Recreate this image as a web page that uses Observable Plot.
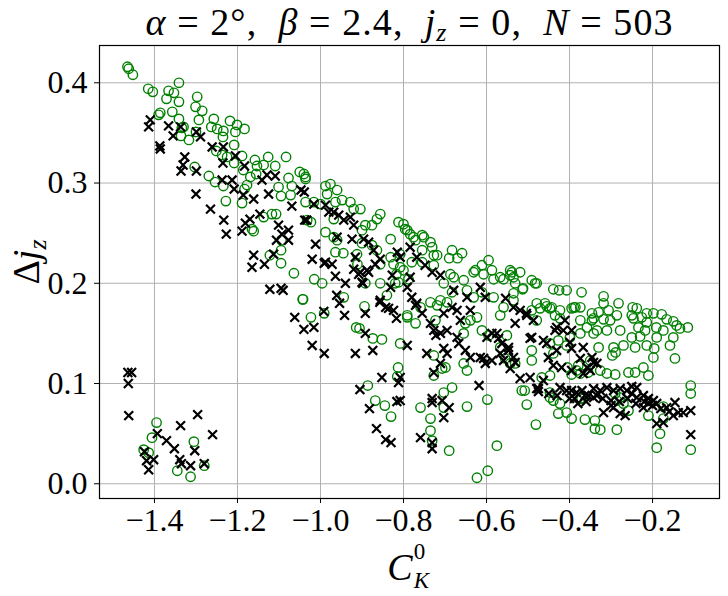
<!DOCTYPE html>
<html>
<head>
<meta charset="utf-8">
<script src="https://cdn.jsdelivr.net/npm/d3@7"></script>
<script src="https://cdn.jsdelivr.net/npm/@observablehq/plot@0.6"></script>
<style>
  html, body { margin: 0; padding: 0; background: white; }
  svg text { font-family: "Liberation Serif", serif; }
</style>
</head>
<body>
<script>
const FONT = "'Liberation Serif', serif";

const xTicks = [-1.4, -1.2, -1.0, -0.8, -0.6, -0.4, -0.2];
const yTicks = [0.0, 0.1, 0.2, 0.3, 0.4];

// green open circles [C_K^0, Δj_z]
const greenPoints = [
[-1.465,0.416],[-1.462,0.414],[-1.452,0.408],[-1.415,0.394],[-1.404,0.391],[-1.341,0.400],[-1.366,0.392],[-1.353,0.390],[-1.371,0.384],[-1.341,0.381],[-1.297,0.386],[-1.301,0.376],[-1.285,0.372],[-1.386,0.370],[-1.390,0.368],[-1.357,0.371],[-1.341,0.364],[-1.293,0.363],[-1.257,0.364],[-1.218,0.362],[-1.201,0.358],[-1.183,0.354],[-1.263,0.356],[-1.249,0.354],[-1.234,0.352],[-1.235,0.346],[-1.205,0.351],[-1.334,0.355],[-1.330,0.356],[-1.336,0.347],[-1.317,0.343],[-1.300,0.351],[-1.208,0.338],[-1.251,0.332],[-1.237,0.328],[-1.225,0.326],[-1.189,0.327],[-1.208,0.320],[-1.158,0.323],[-1.126,0.326],[-1.083,0.326],[-1.153,0.317],[-1.137,0.318],[-1.109,0.317],[-1.155,0.309],[-1.169,0.306],[-1.186,0.313],[-1.303,0.316],[-1.269,0.307],[-1.254,0.301],[-1.234,0.297],[-1.183,0.294],[-1.177,0.298],[-1.077,0.305],[-1.050,0.311],[-1.036,0.306],[-1.101,0.296],[-1.069,0.297],[-1.095,0.287],[-1.072,0.288],[-1.189,0.280],[-1.228,0.282],[-1.137,0.266],[-1.117,0.269],[-1.107,0.269],[-1.165,0.254],[-1.161,0.252],[-1.094,0.243],[-1.095,0.233],[-1.122,0.228],[-1.032,0.263],
[-1.095,0.220],[-1.064,0.210],[-1.015,0.204],[-0.996,0.200],[-1.043,0.184],[-1.023,0.166],[-0.991,0.170],[-0.944,0.186],[-0.894,0.177],[-0.892,0.200],[-0.914,0.156],[-0.906,0.155],[-0.874,0.145],[-0.852,0.144],[-0.808,0.140],[-0.813,0.116],[-0.815,0.107],[-0.886,0.098],[-0.868,0.083],[-0.845,0.078],[-0.830,0.067],[-0.964,0.231],[-0.945,0.230],[-0.912,0.229],[-0.911,0.219],[-0.831,0.226],[-0.856,0.219],[-0.824,0.219],[-0.808,0.229],[-0.817,0.209],[-0.820,0.200],[-0.840,0.188],[-0.791,0.166],
[-1.395,0.061],[-1.406,0.046],[-1.426,0.034],[-1.414,0.031],[-1.305,0.042],[-1.345,0.013],[-1.313,0.007],[-1.280,0.018],
[-1.040,0.309],[-1.036,0.304],[-0.988,0.297],[-0.976,0.299],[-0.960,0.293],[-0.984,0.289],[-1.036,0.281],[-1.016,0.281],[-1.000,0.279],[-0.964,0.281],[-0.948,0.283],[-0.928,0.281],[-0.920,0.274],[-0.904,0.274],[-0.968,0.264],[-1.023,0.261],[-0.856,0.269],[-0.864,0.264],[-0.892,0.258],[-0.876,0.258],[-0.900,0.253],[-0.968,0.246],[-0.988,0.251],[-0.960,0.243],[-0.900,0.240],[-0.864,0.233],[-0.831,0.244],[-0.876,0.238],[-0.812,0.261],[-0.791,0.253],[-0.771,0.243],[-0.751,0.246],[-0.755,0.233],[-0.731,0.236],[-0.727,0.228],[-0.683,0.233],[-0.659,0.230],[-0.780,0.221],[-0.755,0.221],[-0.808,0.216],[-0.800,0.213],[-0.812,0.201],[-0.788,0.204],[-0.727,0.218],[-0.687,0.209],[-0.679,0.206],[-0.655,0.203],[-0.703,0.200],[-0.627,0.213],[-0.611,0.218],[-0.595,0.223],[-0.607,0.209],[-0.583,0.204],[-0.567,0.206],[-0.543,0.213],[-0.535,0.206],[-0.647,0.193],[-0.631,0.186],[-0.611,0.191],[-0.683,0.191],[-0.711,0.183],[-0.719,0.178],[-0.695,0.181],[-0.583,0.186],[-0.559,0.176],[-0.567,0.168],[-0.623,0.166],[-0.651,0.160],[-0.655,0.150],[-0.639,0.163],[-0.611,0.153],[-0.551,0.148],[-0.567,0.136],[-0.727,0.128],[-0.791,0.168],[-0.771,0.160],[-0.735,0.181],[-0.723,0.163],[-0.759,0.176],[-0.856,0.200],[-1.042,0.184],
[-0.800,0.259],[-0.796,0.254],[-0.784,0.249],[-0.776,0.246],[-0.755,0.248],[-0.735,0.241],[-0.719,0.228],[-0.690,0.225],[-0.670,0.225],[-0.631,0.211],[-0.587,0.213],[-0.559,0.204],[-0.519,0.211],[-0.531,0.200],[-0.491,0.203],[-0.479,0.200],[-0.439,0.194],[-0.425,0.193],[-0.407,0.193],[-0.386,0.176],[-0.512,0.195],
[-0.707,0.115],[-0.699,0.116],[-0.727,0.108],[-0.647,0.113],[-0.655,0.120],[-0.703,0.091],[-0.683,0.096],[-0.703,0.076],[-0.759,0.076],[-0.735,0.065],[-0.735,0.053],[-0.731,0.043],[-0.690,0.033],[-0.647,0.077],[-0.598,0.084],[-0.575,0.038],[-0.597,0.013],[-0.623,0.006],[-0.503,0.079],[-0.481,0.059],[-0.515,0.093],[-0.508,0.093],[-0.595,0.148],[-0.491,0.133],[-0.491,0.123],[-0.439,0.083],[-0.427,0.070],[-0.407,0.071],[-0.395,0.065],[-0.363,0.064],[-0.339,0.063],[-0.339,0.055],[-0.371,0.085],[-0.447,0.091],[-0.405,0.116],[-0.383,0.113],[-0.350,0.123],[-0.443,0.176],[-0.455,0.177],[-0.435,0.168],[-0.423,0.165],[-0.479,0.163],[-0.471,0.175],[-0.390,0.176],[-0.374,0.176],[-0.374,0.163],[-0.358,0.156],[-0.346,0.170],[-0.346,0.163],[-0.342,0.150],[-0.374,0.150],[-0.334,0.153],[-0.491,0.173],
[-0.539,0.211],[-0.543,0.208],[-0.483,0.200],[-0.513,0.194],[-0.535,0.190],[-0.535,0.183],[-0.371,0.191],[-0.318,0.187],[-0.318,0.180],[-0.282,0.180],[-0.248,0.176],[-0.238,0.175],[-0.214,0.170],[-0.198,0.170],[-0.178,0.169],[-0.479,0.180],[-0.459,0.180],[-0.447,0.175],[-0.423,0.173],[-0.395,0.175],[-0.330,0.171],[-0.306,0.173],[-0.286,0.168],[-0.250,0.168],[-0.226,0.166],[-0.342,0.165],[-0.318,0.164],[-0.302,0.163],[-0.246,0.165],[-0.214,0.161],[-0.166,0.164],[-0.150,0.162],[-0.142,0.158],[-0.134,0.155],[-0.115,0.156],[-0.310,0.153],[-0.278,0.153],[-0.234,0.156],[-0.218,0.153],[-0.191,0.156],[-0.174,0.153],[-0.150,0.146],[-0.190,0.146],[-0.230,0.147],[-0.250,0.146],[-0.399,0.146],[-0.427,0.143],[-0.447,0.140],[-0.407,0.138],[-0.330,0.136],[-0.294,0.136],[-0.270,0.138],[-0.242,0.136],[-0.214,0.138],[-0.196,0.135],[-0.158,0.138],[-0.289,0.131],[-0.297,0.128],[-0.198,0.126],[-0.146,0.125],[-0.439,0.130],[-0.379,0.118],[-0.355,0.111],[-0.326,0.113],[-0.310,0.110],[-0.290,0.109],[-0.258,0.111],[-0.242,0.111],[-0.222,0.116],[-0.210,0.108],[-0.374,0.110],[-0.395,0.109],[-0.447,0.108],[-0.467,0.106],[-0.374,0.085],[-0.290,0.090],[-0.278,0.086],[-0.286,0.083],[-0.270,0.080],[-0.258,0.073],[-0.326,0.054],[-0.286,0.054],[-0.210,0.068],[-0.174,0.077],[-0.174,0.065],[-0.182,0.050],[-0.190,0.036],[-0.108,0.098],[-0.108,0.090],[-0.108,0.034],[-0.555,0.125],[-0.543,0.120],[-0.531,0.120],[-0.447,0.086],[-0.423,0.080]
];

// black crosses [C_K^0, Δj_z]
const blackPoints = [
[-1.410,0.363],[-1.414,0.356],[-1.366,0.357],[-1.355,0.347],[-1.337,0.356],[-1.299,0.351],[-1.289,0.346],[-1.387,0.337],[-1.386,0.334],[-1.327,0.326],[-1.331,0.318],[-1.336,0.312],[-1.299,0.312],[-1.261,0.336],[-1.234,0.336],[-1.205,0.327],[-1.183,0.317],[-1.235,0.320],[-1.237,0.303],[-1.213,0.303],[-1.208,0.294],[-1.300,0.289],[-1.186,0.288],[-1.161,0.284],[-1.129,0.308],[-1.109,0.307],[-1.141,0.303],[-1.125,0.289],[-1.047,0.293],[-1.069,0.277],[-1.265,0.274],[-1.233,0.263],[-1.227,0.249],[-1.189,0.252],[-1.181,0.260],[-1.170,0.264],[-1.146,0.269],[-1.101,0.258],[-1.093,0.249],[-1.077,0.243],[-1.106,0.243],[-1.077,0.253],[-1.161,0.228],[-1.038,0.263],
[-1.165,0.216],[-1.135,0.219],[-1.113,0.229],[-1.122,0.194],[-1.095,0.195],[-1.090,0.193],[-1.020,0.224],[-0.991,0.220],[-0.972,0.219],[-0.964,0.207],[-0.940,0.200],[-0.920,0.214],[-0.904,0.211],[-0.884,0.211],[-0.868,0.219],[-0.898,0.200],[-0.961,0.188],[-0.954,0.180],[-0.992,0.172],[-0.942,0.168],[-1.062,0.166],[-1.040,0.154],[-1.016,0.156],[-1.020,0.138],[-0.991,0.130],[-0.916,0.130],[-0.874,0.133],[-0.892,0.150],[-0.892,0.170],[-0.857,0.181],[-0.836,0.175],[-0.817,0.165],[-0.791,0.138],[-0.852,0.106],[-0.812,0.101],[-0.905,0.094],[-0.882,0.075],[-0.816,0.082],[-0.865,0.055],[-0.843,0.044],[-0.830,0.041],
[-1.296,0.069],[-1.260,0.049],[-1.337,0.058],[-1.303,0.033],[-1.313,0.018],[-1.280,0.020],[-1.463,0.100],[-1.462,0.068],[-1.393,0.050],[-1.371,0.043],[-1.352,0.035],[-1.339,0.024],[-1.335,0.020],[-1.424,0.032],[-1.419,0.023],[-1.402,0.024],[-1.414,0.014],[-1.464,0.111],[-1.455,0.111],
[-1.039,0.291],[-1.033,0.263],[-1.016,0.279],[-0.988,0.278],[-0.980,0.271],[-0.968,0.271],[-0.956,0.268],[-0.944,0.263],[-0.928,0.266],[-0.920,0.258],[-0.960,0.246],[-0.924,0.244],[-1.012,0.239],[-0.988,0.221],[-0.916,0.226],[-0.896,0.244],[-0.884,0.241],[-0.872,0.233],[-0.856,0.224],[-0.888,0.213],[-0.908,0.209],[-0.900,0.201],[-0.827,0.208],[-0.815,0.231],[-0.808,0.226],[-0.784,0.236],[-0.768,0.226],[-0.748,0.218],[-0.731,0.211],[-0.711,0.208],[-0.784,0.206],[-0.791,0.196],[-0.831,0.196],[-0.856,0.183],[-0.843,0.176],[-0.824,0.173],[-0.780,0.186],[-0.768,0.180],[-0.755,0.170],[-0.735,0.160],[-0.727,0.153],[-0.711,0.150],[-0.703,0.170],[-0.671,0.173],[-0.663,0.163],[-0.639,0.173],[-0.679,0.193],[-0.647,0.186],[-0.615,0.196],[-0.603,0.186],[-0.671,0.146],[-0.651,0.133],[-0.639,0.126],[-0.615,0.126],[-0.599,0.146],[-0.575,0.150],[-0.563,0.140],[-0.547,0.133],[-0.535,0.126],[-0.554,0.185],[-0.535,0.176],[-0.695,0.130],[-0.711,0.120],[-0.744,0.130],
[-0.771,0.178],[-0.722,0.148],[-0.695,0.153],[-0.703,0.135],[-0.667,0.140],[-0.727,0.111],[-0.618,0.098],[-0.731,0.085],[-0.731,0.081],[-0.707,0.083],[-0.690,0.076],[-0.703,0.066],[-0.759,0.046],[-0.731,0.041],[-0.731,0.035],[-0.607,0.125],[-0.603,0.120],[-0.587,0.150],[-0.571,0.145],[-0.559,0.123],[-0.543,0.115],[-0.567,0.130],[-0.531,0.121],[-0.519,0.105],[-0.495,0.106],[-0.479,0.095],[-0.463,0.103],[-0.455,0.140],[-0.431,0.133],[-0.439,0.118],[-0.419,0.116],[-0.423,0.096],[-0.407,0.093],[-0.383,0.091],[-0.363,0.088],[-0.342,0.086],[-0.388,0.085],[-0.374,0.125],[-0.358,0.116],[-0.342,0.121],[-0.504,0.170],[-0.495,0.145],[-0.431,0.156],[-0.411,0.163],[-0.587,0.123],[-0.683,0.176],[-0.808,0.106],[-0.808,0.083],
[-0.519,0.173],[-0.503,0.168],[-0.531,0.160],[-0.487,0.163],[-0.491,0.146],[-0.463,0.143],[-0.451,0.126],[-0.435,0.153],[-0.415,0.153],[-0.395,0.153],[-0.399,0.141],[-0.395,0.135],[-0.367,0.136],[-0.346,0.126],[-0.334,0.120],[-0.395,0.113],[-0.350,0.113],[-0.367,0.110],[-0.547,0.136],[-0.475,0.095],[-0.475,0.092],[-0.342,0.095],[-0.334,0.088],[-0.326,0.093],[-0.310,0.096],[-0.294,0.093],[-0.278,0.095],[-0.262,0.093],[-0.250,0.090],[-0.238,0.086],[-0.222,0.088],[-0.210,0.085],[-0.198,0.083],[-0.190,0.080],[-0.166,0.076],[-0.146,0.081],[-0.138,0.071],[-0.126,0.071],[-0.108,0.073],[-0.108,0.049],[-0.318,0.071],[-0.294,0.076],[-0.278,0.070],[-0.266,0.068],[-0.222,0.076],[-0.210,0.080],[-0.190,0.060],[-0.174,0.061],[-0.238,0.096],[-0.250,0.097],[-0.395,0.093],[-0.370,0.093],[-0.355,0.088],[-0.300,0.083],
[-0.450,0.090],[-0.430,0.088],[-0.400,0.085],[-0.380,0.080],[-0.360,0.082],[-0.320,0.085],[-0.300,0.078],[-0.280,0.082],[-0.260,0.085],[-0.240,0.080],[-0.220,0.082],[-0.200,0.078],[-0.180,0.075],[-0.160,0.072],[-0.150,0.068]
];

const fmt = d3.format(".1f");
const gridColor = "#b0b0b0";

const chart = Plot.plot({
  width: 728,
  height: 596,
  marginLeft: 99,
  marginRight: 9,
  marginTop: 45,
  marginBottom: 98,
  style: { fontFamily: FONT, background: "white", color: "black", overflow: "visible" },
  x: { domain: [-1.5324, -0.0387] },
  y: { domain: [-0.0147, 0.4372] },
  marks: [
    Plot.gridX(xTicks, { stroke: gridColor, strokeOpacity: 1, strokeWidth: 1 }),
    Plot.gridY(yTicks, { stroke: gridColor, strokeOpacity: 1, strokeWidth: 1 }),
    Plot.dot(greenPoints, { x: d => d[0], y: d => d[1], r: 4.7, stroke: "#008000", strokeWidth: 1.4, fill: "none" }),
    Plot.dot(blackPoints, { x: d => d[0], y: d => d[1], r: 4.1, symbol: "times", stroke: "black", strokeWidth: 2.2 }),
    Plot.frame({ stroke: "black", strokeWidth: 1.2 }),
    Plot.axisX(xTicks, { tickSize: 5, tickPadding: 5, fontSize: 32, tickFormat: fmt, label: null, stroke: "black" }),
    Plot.axisY(yTicks, { tickSize: 5, tickPadding: 7, fontSize: 32, tickFormat: fmt, label: null, stroke: "black" })
  ]
});

document.body.appendChild(chart);
const svg = d3.select(chart);

// Title
const title = svg.append("text")
  .attr("x", 409).attr("y", 35)
  .attr("text-anchor", "middle")
  .style("font-family", FONT).attr("font-size", 38).attr("fill", "black");
title.append("tspan").attr("font-style", "italic").text("α");
title.append("tspan").text(" = 2°,  ");
title.append("tspan").attr("font-style", "italic").text("β");
title.append("tspan").text(" = 2.4,  ");
title.append("tspan").attr("font-style", "italic").text("j");
title.append("tspan").attr("font-style", "italic").attr("font-size", 26).attr("dy", 6).text("z");
title.append("tspan").attr("dy", -6).text(" = 0,  ");
title.append("tspan").attr("font-style", "italic").text("N");
title.append("tspan").text(" = 503");
const tw = title.node().getComputedTextLength();
if (tw < 527) title.attr("textLength", 527).attr("lengthAdjust", "spacing");

// X label: C_K^0 (one text element)
const xl = svg.append("text").style("font-family", FONT).attr("fill", "black").attr("font-size", 38);
xl.append("tspan").attr("font-style", "italic").text("C");
const kSpan = xl.append("tspan").attr("font-style", "italic").attr("font-size", 23).attr("dx", 1).attr("dy", 8).text("K");
const kw = kSpan.node().getComputedTextLength();
xl.append("tspan").attr("font-size", 23).attr("dx", -kw).attr("dy", -29).text("0");
const bbx = xl.node().getBBox();
xl.attr("transform", `translate(${409 - bbx.x - bbx.width / 2},580)`);

// Y label: Δj_z
const yt = svg.append("text").style("font-family", FONT).attr("fill", "black").attr("font-size", 38);
yt.append("tspan").text("Δ");
yt.append("tspan").attr("font-style", "italic").text("j");
yt.append("tspan").attr("font-style", "italic").attr("font-size", 26).attr("dy", 7).text("z");
const bby = yt.node().getBBox();
yt.attr("transform", `translate(39,262) rotate(-90) translate(${-bby.x - bby.width / 2},0)`);
</script>
</body>
</html>
